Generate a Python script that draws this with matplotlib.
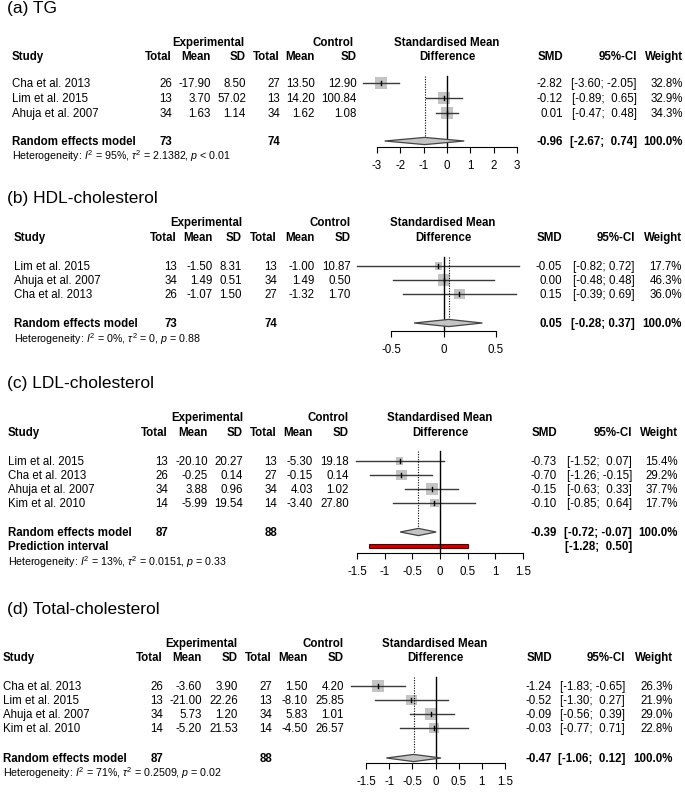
import numpy as np
import matplotlib
matplotlib.use("Agg")
import matplotlib.pyplot as plt
from matplotlib.patches import Rectangle, Polygon

plt.rcParams['font.family'] = ['Liberation Sans', 'DejaVu Sans']
plt.rcParams['mathtext.fontset'] = 'custom'
plt.rcParams['mathtext.rm'] = 'Liberation Sans'
plt.rcParams['mathtext.it'] = 'Liberation Sans:italic'
plt.rcParams['mathtext.bf'] = 'Liberation Sans:bold'
plt.rcParams['axes.unicode_minus'] = False

# ------------------------------------------------------------------ data
tg_title = "(a) TG"
tg_studies = ["Cha et al. 2013", "Lim et al. 2015", "Ahuja et al. 2007"]
tg_exp_n = [26, 13, 34]
tg_exp_mean = [-17.90, 3.70, 1.63]
tg_exp_sd = [8.50, 57.02, 1.14]
tg_ctl_n = [27, 13, 34]
tg_ctl_mean = [13.50, 14.20, 1.62]
tg_ctl_sd = [12.90, 100.84, 1.08]
tg_smd = [-2.82, -0.12, 0.01]
tg_lo = [-3.60, -0.89, -0.47]
tg_hi = [-2.05, 0.65, 0.48]
tg_weight = [32.8, 32.9, 34.3]
tg_pooled = [-0.96, -2.67, 0.74]
tg_totals = [73, 74]
tg_het = "Heterogeneity: $I^2$ = 95%, $\\tau^2$ = 2.1382, $p$ < 0.01"
tg_ticks = [-3, -2, -1, 0, 1, 2, 3]
tg_ticklabels = ["-3", "-2", "-1", "0", "1", "2", "3"]

hdl_title = "(b) HDL-cholesterol"
hdl_studies = ["Lim et al. 2015", "Ahuja et al. 2007", "Cha et al. 2013"]
hdl_exp_n = [13, 34, 26]
hdl_exp_mean = [-1.50, 1.49, -1.07]
hdl_exp_sd = [8.31, 0.51, 1.50]
hdl_ctl_n = [13, 34, 27]
hdl_ctl_mean = [-1.00, 1.49, -1.32]
hdl_ctl_sd = [10.87, 0.50, 1.70]
hdl_smd = [-0.05, 0.00, 0.15]
hdl_lo = [-0.82, -0.48, -0.39]
hdl_hi = [0.72, 0.48, 0.69]
hdl_weight = [17.7, 46.3, 36.0]
hdl_pooled = [0.05, -0.28, 0.37]
hdl_totals = [73, 74]
hdl_het = "Heterogeneity: $I^2$ = 0%, $\\tau^2$ = 0, $p$ = 0.88"
hdl_ticks = [-0.5, 0, 0.5]
hdl_ticklabels = ["-0.5", "0", "0.5"]

ldl_title = "(c) LDL-cholesterol"
ldl_studies = ["Lim et al. 2015", "Cha et al. 2013", "Ahuja et al. 2007", "Kim et al. 2010"]
ldl_exp_n = [13, 26, 34, 14]
ldl_exp_mean = [-20.10, -0.25, 3.88, -5.99]
ldl_exp_sd = [20.27, 0.14, 0.96, 19.54]
ldl_ctl_n = [13, 27, 34, 14]
ldl_ctl_mean = [-5.30, -0.15, 4.03, -3.40]
ldl_ctl_sd = [19.18, 0.14, 1.02, 27.80]
ldl_smd = [-0.73, -0.70, -0.15, -0.10]
ldl_lo = [-1.52, -1.26, -0.63, -0.85]
ldl_hi = [0.07, -0.15, 0.33, 0.64]
ldl_weight = [15.4, 29.2, 37.7, 17.7]
ldl_pooled = [-0.39, -0.72, -0.07]
ldl_prediction = [-1.28, 0.50]
ldl_totals = [87, 88]
ldl_het = "Heterogeneity: $I^2$ = 13%, $\\tau^2$ = 0.0151, $p$ = 0.33"
ldl_ticks = [-1.5, -1, -0.5, 0, 0.5, 1, 1.5]
ldl_ticklabels = ["-1.5", "-1", "-0.5", "0", "0.5", "1", "1.5"]

tc_title = "(d) Total-cholesterol"
tc_studies = ["Cha et al. 2013", "Lim et al. 2015", "Ahuja et al. 2007", "Kim et al. 2010"]
tc_exp_n = [26, 13, 34, 14]
tc_exp_mean = [-3.60, -21.00, 5.73, -5.20]
tc_exp_sd = [3.90, 22.26, 1.20, 21.53]
tc_ctl_n = [27, 13, 34, 14]
tc_ctl_mean = [1.50, -8.10, 5.83, -4.50]
tc_ctl_sd = [4.20, 25.85, 1.01, 26.57]
tc_smd = [-1.24, -0.52, -0.09, -0.03]
tc_lo = [-1.83, -1.30, -0.56, -0.77]
tc_hi = [-0.65, 0.27, 0.39, 0.71]
tc_weight = [26.3, 21.9, 29.0, 22.8]
tc_pooled = [-0.47, -1.06, 0.12]
tc_totals = [87, 88]
tc_het = "Heterogeneity: $I^2$ = 71%, $\\tau^2$ = 0.2509, $p$ = 0.02"
tc_ticks = [-1.5, -1, -0.5, 0, 0.5, 1, 1.5]
tc_ticklabels = ["-1.5", "-1", "-0.5", "0", "0.5", "1", "1.5"]

# ------------------------------------------------------------------ panels
panels = [
    dict(title=tg_title, studies=tg_studies, en=tg_exp_n, em=tg_exp_mean, es=tg_exp_sd,
         cn=tg_ctl_n, cm=tg_ctl_mean, cs=tg_ctl_sd, smd=tg_smd, lo=tg_lo, hi=tg_hi,
         w=tg_weight, pooled=tg_pooled, pred=None, totals=tg_totals, het=tg_het,
         ticks=tg_ticks, ticklabels=tg_ticklabels),
    dict(title=hdl_title, studies=hdl_studies, en=hdl_exp_n, em=hdl_exp_mean, es=hdl_exp_sd,
         cn=hdl_ctl_n, cm=hdl_ctl_mean, cs=hdl_ctl_sd, smd=hdl_smd, lo=hdl_lo, hi=hdl_hi,
         w=hdl_weight, pooled=hdl_pooled, pred=None, totals=hdl_totals, het=hdl_het,
         ticks=hdl_ticks, ticklabels=hdl_ticklabels),
    dict(title=ldl_title, studies=ldl_studies, en=ldl_exp_n, em=ldl_exp_mean, es=ldl_exp_sd,
         cn=ldl_ctl_n, cm=ldl_ctl_mean, cs=ldl_ctl_sd, smd=ldl_smd, lo=ldl_lo, hi=ldl_hi,
         w=ldl_weight, pooled=ldl_pooled, pred=ldl_prediction, totals=ldl_totals, het=ldl_het,
         ticks=ldl_ticks, ticklabels=ldl_ticklabels),
    dict(title=tc_title, studies=tc_studies, en=tc_exp_n, em=tc_exp_mean, es=tc_exp_sd,
         cn=tc_ctl_n, cm=tc_ctl_mean, cs=tc_ctl_sd, smd=tc_smd, lo=tc_lo, hi=tc_hi,
         w=tc_weight, pooled=tc_pooled, pred=None, totals=tc_totals, het=tc_het,
         ticks=tc_ticks, ticklabels=tc_ticklabels),
]

# layout in output pixels (x right, y down)
layouts = [
    dict(title_x=7, title_base=13, hdr1=42, hdr2=56, rows=[83, 98, 113], pooled=141, pred=None,
         het=156, axis_y=147, line_top=76, x0=447, ppu=140 / 6,
         study=12, etot=172, emean=211, esd=246, ctot=280, cmean=315, csd=357,
         smd=563, ci=637, wt=683, expc=208, ctlc=333, smdh=447),
    dict(title_x=7, title_base=203, hdr1=222, hdr2=237, rows=[266, 280, 294], pooled=323, pred=None,
         het=339, axis_y=331, line_top=257, x0=443.5, ppu=105,
         study=14, etot=177, emean=213, esd=242, ctot=277, cmean=315, csd=351,
         smd=562, ci=635, wt=682, expc=206, ctlc=330, smdh=443),
    dict(title_x=7, title_base=388, hdr1=417, hdr2=432, rows=[461, 475, 489, 503], pooled=532, pred=546,
         het=562, axis_y=553, line_top=451, x0=440, ppu=166 / 3,
         study=8, etot=168, emean=208, esd=243, ctot=277, cmean=313, csd=349,
         smd=557, ci=632, wt=678, expc=207, ctlc=328, smdh=440),
    dict(title_x=7, title_base=614, hdr1=643, hdr2=657, rows=[686, 700, 714, 728], pooled=758, pred=None,
         het=773, axis_y=763, line_top=677, x0=435.5, ppu=139 / 3,
         study=3, etot=163, emean=202, esd=238, ctot=272, cmean=308, csd=344,
         smd=552, ci=625, wt=673, expc=201, ctlc=323, smdh=435),
]

W, H = 685, 792
FS = 8.3
TITLE_FS = 12.5
HET_FS = 7.7
SQ = '#C4C4C4'
LC = '#3a3a3a'

fig = plt.figure(figsize=(W / 100, H / 100), dpi=100)
bg = fig.add_axes([0, 0, 1, 1])
bg.set_xlim(0, W)
bg.set_ylim(H, 0)
bg.axis('off')


def txt(x, y, s, ha='left', bold=False, size=FS):
    bg.text(x, y + 4.1 * size / FS, s, ha=ha, va='baseline', fontsize=size,
            fontweight='bold' if bold else 'normal')


def fmt_ci(lo, hi, wlo, whi):
    return "[" + f"{lo:.2f}".rjust(wlo) + "; " + f"{hi:.2f}".rjust(whi) + "]"


for P, L in zip(panels, layouts):
    bg.text(L['title_x'], L['title_base'], P['title'], fontsize=TITLE_FS, va='baseline')
    # headers
    txt(L['expc'], L['hdr1'], "Experimental", ha='center', bold=True)
    txt(L['ctlc'], L['hdr1'], "Control", ha='center', bold=True)
    txt(L['smdh'], L['hdr1'], "Standardised Mean", ha='center', bold=True)
    txt(L['study'], L['hdr2'], "Study", bold=True)
    for key, lab in [('etot', 'Total'), ('emean', 'Mean'), ('esd', 'SD'),
                     ('ctot', 'Total'), ('cmean', 'Mean'), ('csd', 'SD'),
                     ('smd', 'SMD'), ('ci', '95%-CI'), ('wt', 'Weight')]:
        txt(L[key], L['hdr2'], lab, ha='right', bold=True)
    txt(L['smdh'], L['hdr2'], "Difference", ha='center', bold=True)

    allhi = list(P['hi']) + [P['pooled'][2]] + ([P['pred'][1]] if P['pred'] else [])
    alllo = list(P['lo']) + [P['pooled'][1]] + ([P['pred'][0]] if P['pred'] else [])
    whi = max(len(f"{v:.2f}") for v in allhi)
    wlo = max(len(f"{v:.2f}") for v in alllo)

    for i, y in enumerate(L['rows']):
        txt(L['study'], y, P['studies'][i])
        txt(L['etot'], y, f"{P['en'][i]}", ha='right')
        txt(L['emean'], y, f"{P['em'][i]:.2f}", ha='right')
        txt(L['esd'], y, f"{P['es'][i]:.2f}", ha='right')
        txt(L['ctot'], y, f"{P['cn'][i]}", ha='right')
        txt(L['cmean'], y, f"{P['cm'][i]:.2f}", ha='right')
        txt(L['csd'], y, f"{P['cs'][i]:.2f}", ha='right')
        txt(L['smd'], y, f"{P['smd'][i]:.2f}", ha='right')
        txt(L['ci'], y, fmt_ci(P['lo'][i], P['hi'][i], wlo, whi), ha='right')
        txt(L['wt'], y, f"{P['w'][i]:.1f}%", ha='right')

    y = L['pooled']
    txt(L['study'], y, "Random effects model", bold=True)
    txt(L['etot'], y, f"{P['totals'][0]}", ha='right', bold=True)
    txt(L['ctot'], y, f"{P['totals'][1]}", ha='right', bold=True)
    txt(L['smd'], y, f"{P['pooled'][0]:.2f}", ha='right', bold=True)
    txt(L['ci'], y, fmt_ci(P['pooled'][1], P['pooled'][2], wlo, whi), ha='right', bold=True)
    txt(L['wt'], y, f"{sum(P['w']):.1f}%", ha='right', bold=True)
    if P['pred']:
        txt(L['study'], L['pred'], "Prediction interval", bold=True)
        txt(L['ci'], L['pred'], fmt_ci(P['pred'][0], P['pred'][1], wlo, whi), ha='right', bold=True)
    bg.text(L['study'], L['het'] + 4, P['het'], fontsize=HET_FS, va='baseline')

    # forest axes
    ppu = L['ppu']
    xl = (P['ticks'][0], P['ticks'][-1])
    left_px = L['x0'] + xl[0] * ppu
    right_px = L['x0'] + xl[1] * ppu
    top_px = L['line_top'] - 10
    ax = fig.add_axes([left_px / W, 1 - L['axis_y'] / H, (right_px - left_px) / W,
                       (L['axis_y'] - top_px) / H])
    ax.set_xlim(*xl)
    ax.set_ylim(L['axis_y'], top_px)
    ax.patch.set_alpha(0)
    for s in ['left', 'top', 'right']:
        ax.spines[s].set_visible(False)
    ax.spines['bottom'].set_linewidth(0.8)
    ax.set_yticks([])
    ax.set_xticks(P['ticks'])
    ax.set_xticklabels(P['ticklabels'])
    ax.tick_params(axis='x', direction='out', length=4.5, width=0.8, pad=5, labelsize=FS)

    wmax = max(P['w'])
    for y, m, lo, hi, w in zip(L['rows'], P['smd'], P['lo'], P['hi'], P['w']):
        side = 12 * np.sqrt(w / wmax)
        ax.add_patch(Rectangle((m - side / 2 / ppu, y - side / 2), side / ppu, side,
                               facecolor=SQ, edgecolor='none', clip_on=False, zorder=2))
        ax.plot([lo, hi], [y, y], color=LC, lw=1.0, clip_on=False, zorder=3)
        ax.plot([m, m], [y - 1.6, y + 1.6], color='black', lw=1.0, clip_on=False, zorder=4)

    pm, plo, phi = P['pooled']
    py = L['pooled']
    ax.plot([0, 0], [L['line_top'], L['axis_y']], color='black', lw=1.0, clip_on=False, zorder=3)
    ax.plot([pm, pm], [L['line_top'], py], color='black', lw=0.8, ls=(0, (1, 1.3)),
            clip_on=False, zorder=3)
    ax.add_patch(Polygon([(plo, py), (pm, py - 3.6), (phi, py), (pm, py + 3.6)], closed=True,
                         facecolor=SQ, edgecolor='#444444', lw=0.9, clip_on=False, zorder=4))
    if P['pred']:
        yy = L['pred']
        ax.add_patch(Rectangle((P['pred'][0], yy - 2), P['pred'][1] - P['pred'][0], 4,
                               facecolor='#CC0000', edgecolor='#5a0000', lw=0.8,
                               clip_on=False, zorder=2))

fig.savefig('out.png', dpi=100)
